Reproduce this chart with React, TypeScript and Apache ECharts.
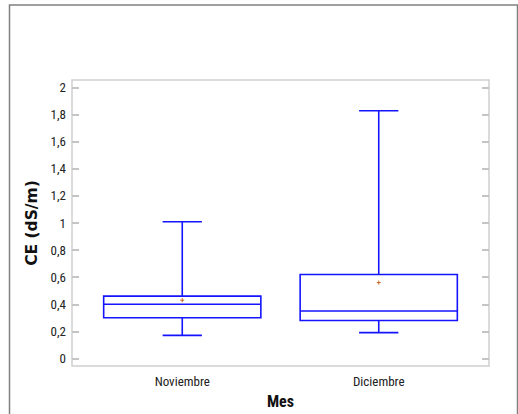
import React, { useEffect, useRef } from "react";
import * as echarts from "echarts";

const categories = ["Noviembre", "Diciembre"];
const minValues = [0.17, 0.19];
const q1Values = [0.3, 0.28];
const medianValues = [0.4, 0.35];
const q3Values = [0.46, 0.62];
const maxValues = [1.01, 1.83];
const meanValues = [0.43, 0.56];
const yTicks = [0, 0.2, 0.4, 0.6, 0.8, 1, 1.2, 1.4, 1.6, 1.8, 2];

const BLUE = "#1414ff";
const NARROW = "'Roboto Condensed', 'DejaVu Sans Condensed', sans-serif";

export default function App() {
  const ref = useRef<HTMLDivElement>(null);
  useEffect(() => {
    if (!ref.current) return;
    const chart = echarts.init(ref.current, null, { renderer: "svg" });
    const data = categories.map((_, i) => [
      i + 1,
      minValues[i],
      q1Values[i],
      medianValues[i],
      q3Values[i],
      maxValues[i],
      meanValues[i],
    ]);
    const renderItem = (params: any, api: any) => {
      const x = api.value(0);
      const pMin = api.coord([x, api.value(1)]);
      const pQ1 = api.coord([x, api.value(2)]);
      const pMed = api.coord([x, api.value(3)]);
      const pQ3 = api.coord([x, api.value(4)]);
      const pMax = api.coord([x, api.value(5)]);
      const pMean = api.coord([x, api.value(6)]);
      const half = api.size([0.4, 0])[0];
      const cap = api.size([0.1, 0])[0];
      const cx = pMed[0];
      const ls = { stroke: BLUE, lineWidth: 1.6, fill: "none" };
      const meanStyle = { stroke: "#c8641e", lineWidth: 1 };
      return {
        type: "group",
        children: [
          { type: "line", shape: { x1: cx, y1: pMax[1], x2: cx, y2: pQ3[1] }, style: ls },
          { type: "line", shape: { x1: cx, y1: pQ1[1], x2: cx, y2: pMin[1] }, style: ls },
          { type: "line", shape: { x1: cx - cap, y1: pMax[1], x2: cx + cap, y2: pMax[1] }, style: ls },
          { type: "line", shape: { x1: cx - cap, y1: pMin[1], x2: cx + cap, y2: pMin[1] }, style: ls },
          {
            type: "rect",
            shape: { x: cx - half, y: pQ3[1], width: 2 * half, height: pQ1[1] - pQ3[1] },
            style: ls,
          },
          { type: "line", shape: { x1: cx - half, y1: pMed[1], x2: cx + half, y2: pMed[1] }, style: ls },
          { type: "line", shape: { x1: cx - 2, y1: pMean[1], x2: cx + 2, y2: pMean[1] }, style: meanStyle },
          { type: "line", shape: { x1: cx, y1: pMean[1] - 2, x2: cx, y2: pMean[1] + 2 }, style: meanStyle },
        ],
      };
    };
    const tickStyle = { show: true, inside: true, length: 7, lineStyle: { color: "#c4c4c4", width: 2 }, customValues: yTicks };
    chart.setOption({
      animation: false,
      backgroundColor: "#ffffff",
      grid: {
        left: 72,
        top: 80,
        right: 29,
        bottom: 46,
        show: true,
        borderColor: "#cfcfcf",
        borderWidth: 1.5,
        backgroundColor: "transparent",
      },
      xAxis: {
        type: "value",
        min: 0.4388,
        max: 2.5612,
        name: "Mes",
        nameLocation: "middle",
        nameGap: 25,
        nameTextStyle: { fontFamily: NARROW, fontWeight: "bold", fontSize: 16, color: "#111" },
        axisLine: { show: false },
        axisTick: { show: false },
        splitLine: { show: false },
        axisLabel: {
          customValues: [1, 2],
          formatter: (v: number) => categories[Math.round(v) - 1] ?? "",
          fontFamily: NARROW,
          fontSize: 13,
          color: "#222",
          margin: 9,
        },
      },
      yAxis: [
        {
          type: "value",
          min: -0.057,
          max: 2.057,
          name: "CE (dS/m)",
          nameLocation: "middle",
          nameGap: 23,
          nameTextStyle: { fontFamily: "'DejaVu Sans', sans-serif", fontWeight: "bold", fontSize: 15.5, color: "#111" },
          axisLine: { show: false },
          axisTick: tickStyle,
          splitLine: { show: false },
          axisLabel: {
            customValues: yTicks,
            formatter: (v: number) => String(Math.round(v * 10) / 10).replace(".", ","),
            fontFamily: NARROW,
            fontSize: 13,
            color: "#222",
            margin: 6,
          },
        },
        {
          type: "value",
          position: "right",
          min: -0.057,
          max: 2.057,
          axisLine: { show: false },
          axisTick: tickStyle,
          splitLine: { show: false },
          axisLabel: { show: false },
        },
      ],
      series: [
        {
          type: "custom",
          renderItem,
          data,
          encode: { x: 0, y: [1, 2, 3, 4, 5] },
          clip: false,
        },
      ],
      graphic: [
        {
          type: "rect",
          shape: { x: 9.5, y: 5, width: 508, height: 420 },
          style: { fill: "none", stroke: "#808080", lineWidth: 1.5 },
          silent: true,
        },
      ],
    });
    return () => chart.dispose();
  }, []);
  return <div ref={ref} style={{ position: "fixed", left: 0, top: 0, width: 518, height: 414 }} />;
}
